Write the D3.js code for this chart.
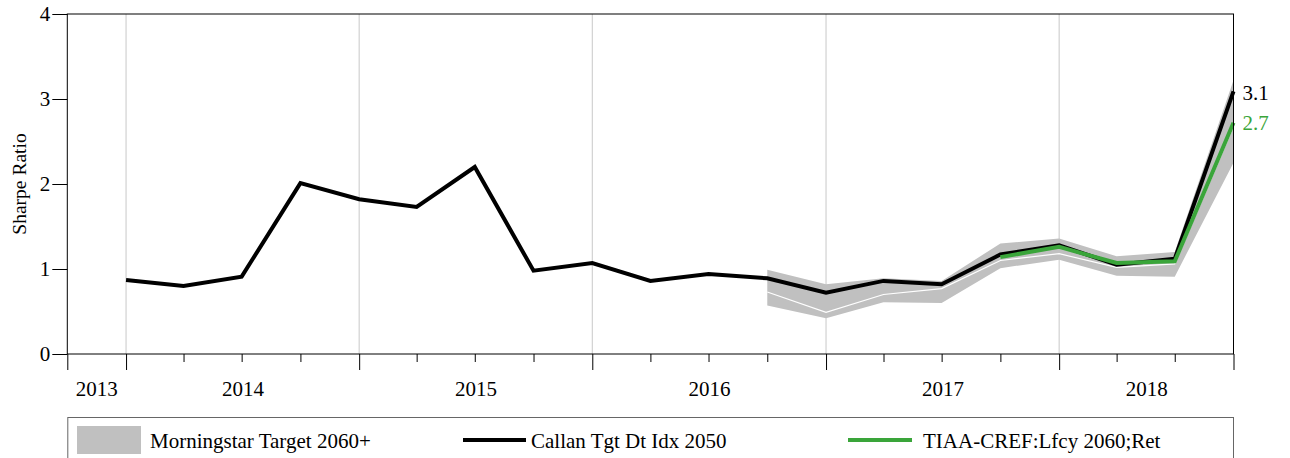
<!DOCTYPE html>
<html>
<head>
<meta charset="utf-8">
<script src="https://cdn.jsdelivr.net/npm/d3@7"></script>
<style>
  html, body { margin: 0; padding: 0; background: #fff; }
  svg { display: block; }
  text { font-family: "Liberation Serif", "Times New Roman", serif; }
</style>
</head>
<body>
<div id="chart"></div>
<script>
// ---------- data ----------
const quarters = ["2013-12-31","2014-03-31","2014-06-30","2014-09-30","2014-12-31",
  "2015-03-31","2015-06-30","2015-09-30","2015-12-31","2016-03-31","2016-06-30",
  "2016-09-30","2016-12-31","2017-03-31","2017-06-30","2017-09-30","2017-12-31",
  "2018-03-31","2018-06-30","2018-09-30"];
const callan = [0.87, 0.80, 0.91, 2.01, 1.82, 1.73, 2.20, 0.98, 1.07, 0.86, 0.94,
  0.89, 0.72, 0.86, 0.82, 1.17, 1.28, 1.05, 1.12, 3.09];
const bandHigh = [null,null,null,null,null,null,null,null,null,null,null,
  0.99, 0.82, 0.89, 0.86, 1.30, 1.36, 1.15, 1.20, 3.22];
const bandLow = [null,null,null,null,null,null,null,null,null,null,null,
  0.57, 0.42, 0.61, 0.60, 1.01, 1.11, 0.92, 0.91, 2.25];
const bandMedian = [null,null,null,null,null,null,null,null,null,null,null,
  0.73, 0.49, 0.70, 0.77, 1.10, 1.18, 1.02, 1.06, 2.68];
const tiaa = [null,null,null,null,null,null,null,null,null,null,null,
  null,null,null,null, 1.14, 1.26, 1.07, 1.09, 2.72];
const yTicks = [0, 1, 2, 3, 4];
const yearLabels = ["2013","2014","2015","2016","2017","2018"];
const seriesNames = ["Morningstar Target 2060+", "Callan Tgt Dt Idx 2050", "TIAA-CREF:Lfcy 2060;Ret"];
const colors = { band: "#c0c0c0", callan: "#000000", tiaa: "#3aa53a" };

// ---------- layout ----------
const W = 1290, H = 458;
const FS = 21;
const m = { left: 67.3, right: 1233.5, top: 14, bottom: 354 };
const parse = d3.utcParse("%Y-%m-%d");
const dates = quarters.map(parse);
const domainStart = parse("2013-09-30");
const domainEnd = dates[dates.length - 1];

const x = d3.scaleUtc().domain([domainStart, domainEnd]).range([m.left, m.right]);
const y = d3.scaleLinear().domain([0, 4]).range([m.bottom, m.top]);

const svg = d3.select("#chart").append("svg").attr("width", W).attr("height", H);

// vertical gridlines at year boundaries
const yearEnds = dates.filter(d => d.getUTCMonth() === 11);
svg.append("g").selectAll("line").data(yearEnds).join("line")
  .attr("x1", d => x(d)).attr("x2", d => x(d))
  .attr("y1", m.top).attr("y2", m.bottom)
  .attr("stroke", "#c8c8c8").attr("stroke-width", 1);

// band
const rows = dates.map((d, i) => ({ d, hi: bandHigh[i], lo: bandLow[i], med: bandMedian[i], c: callan[i], t: tiaa[i] }));
svg.append("path").datum(rows)
  .attr("fill", colors.band)
  .attr("d", d3.area().defined(r => r.hi != null).x(r => x(r.d)).y0(r => y(r.lo)).y1(r => y(r.hi)));
svg.append("path").datum(rows)
  .attr("fill", "none").attr("stroke", "#ffffff").attr("stroke-width", 1.2)
  .attr("d", d3.line().defined(r => r.med != null).x(r => x(r.d)).y(r => y(r.med)));

// lines
svg.append("path").datum(rows)
  .attr("fill", "none").attr("stroke", colors.callan).attr("stroke-width", 4)
  .attr("d", d3.line().x(r => x(r.d)).y(r => y(r.c)));
svg.append("path").datum(rows)
  .attr("fill", "none").attr("stroke", colors.tiaa).attr("stroke-width", 4)
  .attr("d", d3.line().defined(r => r.t != null).x(r => x(r.d)).y(r => y(r.t)));

// frame
svg.append("rect").attr("x", m.left).attr("y", m.top)
  .attr("width", m.right - m.left).attr("height", m.bottom - m.top)
  .attr("fill", "none").attr("stroke", "#000").attr("stroke-width", 1);

// y axis
const yAxis = svg.append("g").attr("transform", `translate(${m.left},0)`)
  .call(d3.axisLeft(y).tickValues(yTicks).tickSize(15).tickPadding(2).tickFormat(d3.format("d")));
yAxis.select(".domain").remove();
yAxis.selectAll("text").attr("font-size", FS).attr("fill", "#000");
svg.append("text").attr("transform", `translate(26,${(m.top + m.bottom) / 2}) rotate(-90)`)
  .attr("text-anchor", "middle").attr("font-size", 19.5).text("Sharpe Ratio");

// x axis: quarter ticks
const tickDates = [domainStart].concat(dates);
const xg = svg.append("g").attr("transform", `translate(0,${m.bottom})`);
xg.call(d3.axisBottom(x).tickValues(tickDates).tickSize(8).tickFormat(""));
xg.select(".domain").remove();
xg.selectAll(".tick line")
  .attr("y2", d => (d.getUTCMonth() === 11 || +d === +domainStart || +d === +domainEnd) ? 16 : 8);

// year labels centered in each year's visible span
const yearCenters = yearLabels.map(yl => {
  const a = d3.max([parse(yl + "-01-01"), domainStart]);
  const b = d3.min([parse(yl + "-12-31"), domainEnd]);
  return { yl, cx: (x(a) + x(b)) / 2 };
});
svg.append("g").selectAll("text").data(yearCenters).join("text")
  .attr("x", d => d.cx).attr("y", 396).attr("text-anchor", "middle")
  .attr("font-size", FS).text(d => d.yl);

// end labels
const fmt = d3.format(".1f");
svg.append("text").attr("x", m.right + 9).attr("y", y(callan[callan.length - 1]) + 9)
  .attr("font-size", FS).attr("fill", colors.callan).text(fmt(callan[callan.length - 1]));
svg.append("text").attr("x", m.right + 9).attr("y", y(tiaa[tiaa.length - 1]) + 7)
  .attr("font-size", FS).attr("fill", colors.tiaa).text(fmt(tiaa[tiaa.length - 1]));

// legend
const lg = svg.append("g");
lg.append("rect").attr("x", 67.8).attr("y", 417.5).attr("width", m.right - 67.8).attr("height", 60)
  .attr("fill", "#fff").attr("stroke", "#666").attr("stroke-width", 1);
lg.append("rect").attr("x", 77).attr("y", 426).attr("width", 64).attr("height", 28).attr("fill", colors.band);
lg.append("text").attr("x", 150).attr("y", 448).attr("font-size", FS).text(seriesNames[0]);
lg.append("line").attr("x1", 463).attr("x2", 526).attr("y1", 440).attr("y2", 440)
  .attr("stroke", colors.callan).attr("stroke-width", 4);
lg.append("text").attr("x", 531).attr("y", 448).attr("font-size", FS).text(seriesNames[1]);
lg.append("line").attr("x1", 848).attr("x2", 912).attr("y1", 440).attr("y2", 440)
  .attr("stroke", colors.tiaa).attr("stroke-width", 4);
lg.append("text").attr("x", 923).attr("y", 448).attr("font-size", FS).text(seriesNames[2]);
</script>
</body>
</html>
